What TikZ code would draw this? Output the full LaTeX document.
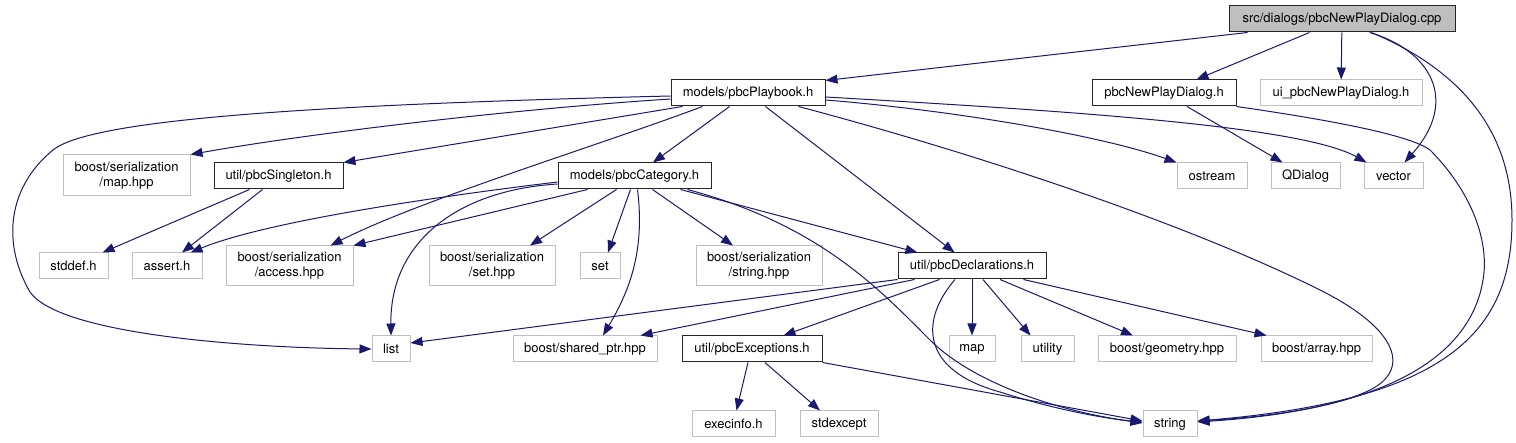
\documentclass[tikz,border=0pt]{standalone}
\usepackage{fontspec}
\setmainfont{TeX Gyre Heros}
\usetikzlibrary{arrows.meta,calc}
\definecolor{edgec}{HTML}{191970}
\definecolor{grayb}{HTML}{BFBFBF}
\begin{document}
\begin{tikzpicture}[x=1pt,y=-1pt,
  font=\fontsize{13}{15}\selectfont,
  base/.style={rectangle, inner sep=0pt, align=center, minimum height=26pt},
  gbox/.style={base, draw=grayb, line width=1pt},
  bbox/.style={base, draw=black!85, line width=1pt},
  e/.style={draw=edgec, line width=1pt, -{Triangle[length=12pt,width=9pt]}}]
\fill[white] (0,0) rectangle (1516,443);
\useasboundingbox (0,0) rectangle (1516,443);
% row 0
\node[bbox, fill=grayb, minimum width=226pt] (cpp) at (1342,19) {src/dialogs/pbcNewPlayDialog.cpp};
% row 1
\node[bbox, minimum width=154pt] (playbook) at (748,93) {models/pbcPlaybook.h};
\node[bbox, minimum width=144pt] (npdh) at (1164,93) {pbcNewPlayDialog.h};
\node[gbox, minimum width=162pt] (ui) at (1341,93) {ui\_pbcNewPlayDialog.h};
% row 2
\node[gbox, minimum width=127pt, minimum height=41pt] (maphpp) at (126.5,175.5) {boost/serialization\\/map.hpp};
\node[bbox, minimum width=129pt] (singleton) at (278.5,176) {util/pbcSingleton.h};
\node[bbox, minimum width=153pt] (category) at (634.5,176) {models/pbcCategory.h};
\node[gbox, minimum width=70pt] (ostream) at (1212,176) {ostream};
\node[gbox, minimum width=69pt] (qdialog) at (1305.5,176) {QDialog};
\node[gbox, minimum width=59pt] (vector) at (1393.5,176) {vector};
% row 3
\node[gbox, minimum width=69pt] (stddef) at (73.5,266) {stddef.h};
\node[gbox, minimum width=70pt] (assert) at (167,266) {assert.h};
\node[gbox, minimum width=127pt, minimum height=40pt] (access) at (289.5,266) {boost/serialization\\/access.hpp};
\node[gbox, minimum width=126pt, minimum height=40pt] (sethpp) at (492,266) {boost/serialization\\/set.hpp};
\node[gbox, minimum width=40pt] (set) at (600,266) {set};
\node[gbox, minimum width=126pt, minimum height=40pt] (stringhpp) at (759,266) {boost/serialization\\/string.hpp};
\node[bbox, minimum width=148pt] (decl) at (972,266) {util/pbcDeclarations.h};
% row 4
\node[gbox, minimum width=38pt] (list) at (391,349) {list};
\node[gbox, minimum width=144pt] (sharedptr) at (585,349) {boost/shared\_ptr.hpp};
\node[bbox, minimum width=140pt] (exceptions) at (752,349) {util/pbcExceptions.h};
\node[gbox, minimum width=46pt] (map) at (972,349) {map};
\node[gbox, minimum width=53pt] (utility) at (1047.5,349) {utility};
\node[gbox, minimum width=138pt] (geometry) at (1167,349) {boost/geometry.hpp};
\node[gbox, minimum width=111pt] (array) at (1316.5,349) {boost/array.hpp};
% row 5
\node[gbox, minimum width=83pt] (execinfo) at (733.5,424) {execinfo.h};
\node[gbox, minimum width=78pt] (stdexcept) at (839,424) {stdexcept};
\node[gbox, minimum width=54pt] (string) at (1170,424) {string};

% edges from cpp
\draw[e] ($(cpp.south west)+(19,0)$) -- ($(playbook.north east)+(0,1)$);
\draw[e] (cpp) -- (npdh);
\draw[e] (cpp) -- (ui);
\draw[e] ($(cpp.south west)+(141,0)$) .. controls (1430,50) and (1460,100) .. ($(vector.north)+(11,0)$);
\draw[e] ($(cpp.south west)+(143,0)$) .. controls (1460,70) and (1512,130) .. (1512,220) .. controls (1512,330) and (1450,400) .. ($(string.east)+(0,-3)$);
% edges from playbook
\draw[e] ($(playbook.west)+(0,3)$) .. controls (300,105) and (90,120) .. (53,150) .. controls (10,185) and (0,240) .. (30,292) .. controls (60,335) and (250,348) .. (list.west);
\draw[e] ($(playbook.west)+(0,6)$) .. controls (500,110) and (300,135) .. (maphpp.north east);
\draw[e] ($(playbook.south west)+(12,0)$) -- (singleton.north east);
\draw[e] ($(playbook.south west)+(32,0)$) .. controls (600,145) and (420,200) .. ($(access.north east)+(-23,0)$);
\draw[e] (playbook) -- (category);
\draw[e] (playbook) -- (decl);
\draw[e] ($(playbook.south east)+(-27,0)$) .. controls (1000,160) and (1200,230) .. (1320,290) .. controls (1400,330) and (1410,370) .. (1370,390) .. controls (1330,410) and (1250,418) .. ($(string.east)+(0,-3)$);
\draw[e] ($(playbook.east)+(0,7)$) .. controls (950,110) and (1100,135) .. (ostream.north west);
\draw[e] ($(playbook.east)+(0,4)$) .. controls (1050,110) and (1300,125) .. ($(vector.north west)+(3,0)$);
% edges from npdh
\draw[e] (npdh) -- (qdialog);
\draw[e] (npdh.south east) .. controls (1330,120) and (1410,135) .. (1430,150) .. controls (1470,190) and (1490,240) .. (1483,280) .. controls (1470,360) and (1380,410) .. ($(string.east)+(0,-2)$);
% edges from category
\draw[e] ($(category.west)+(0,6)$) .. controls (450,195) and (270,220) .. ($(assert.north east)+(-12,0)$);
\draw[e] ($(category.south west)+(30,0)$) -- (access.north east);
\draw[e] ($(category.west)+(0,8)$) .. controls (460,190) and (390,240) .. (list.north);
\draw[e] ($(category.south west)+(59,0)$) -- ($(sethpp.north)+(38,0)$);
\draw[e] ($(category.south)+(-4,0)$) -- ($(set.north)+(8,0)$);
\draw[e] ($(category.south)+(3,0)$) .. controls (645,250) and (630,290) .. ($(sharedptr.north)+(18,0)$);
\draw[e] ($(category.south)+(18,0)$) -- ($(stringhpp.north)+(-26,0)$);
\draw[e] ($(category.south east)+(-31,0)$) -- ($(decl.north west)+(20,0)$);
\draw[e] ($(category.south east)+(-24,0)$) .. controls (820,225) and (880,290) .. (930,340) .. controls (970,380) and (1050,410) .. ($(string.west)+(0,-1)$);
% edges from singleton
\draw[e] ($(singleton.south west)+(36,0)$) -- ($(stddef.north east)+(-6,0)$);
\draw[e] ($(singleton.south west)+(49,0)$) -- ($(assert.north)+(15,0)$);
% edges from decl
\draw[e] (decl.south west) -- ($(list.east)+(0,-6)$);
\draw[e] ($(decl.south west)+(17,0)$) -- ($(sharedptr.north east)+(-17,0)$);
\draw[e] ($(decl.south west)+(42,0)$) -- ($(exceptions.north east)+(-39,0)$);
\draw[e] (decl) -- (map);
\draw[e] ($(decl.south)+(11,0)$) -- ($(utility.north)+(-17,0)$);
\draw[e] ($(decl.south)+(28,0)$) -- ($(geometry.north)+(-34,0)$);
\draw[e] ($(decl.south east)+(-23,0)$) -- ($(array.north west)+(6,0)$);
\draw[e] ($(decl.south)+(-17,0)$) .. controls (920,320) and (920,370) .. (1000,392) .. controls (1050,408) and (1100,418) .. ($(string.west)+(0,-2)$);
% edges from exceptions
\draw[e] ($(exceptions.south)+(-4,0)$) -- ($(execinfo.north)+(3,0)$);
\draw[e] ($(exceptions.south)+(13,0)$) -- ($(stdexcept.north)+(-19,0)$);
\draw[e] (exceptions.south east) -- ($(string.west)+(0,-3)$);
\end{tikzpicture}
\end{document}
